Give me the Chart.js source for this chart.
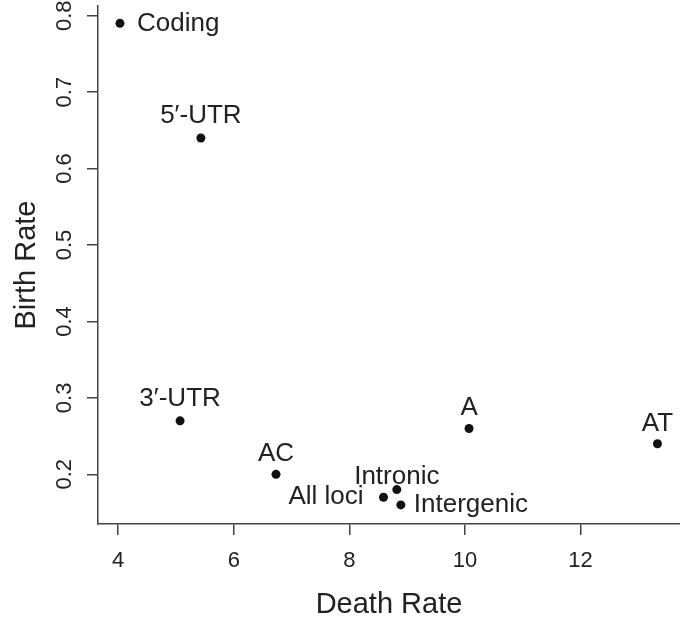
<!DOCTYPE html>
<html>
<head>
<meta charset="utf-8">
<title>Birth rate vs death rate</title>
<script src="https://cdn.jsdelivr.net/npm/chart.js@4.4.1/dist/chart.umd.min.js"></script>
<style>
  html, body { margin: 0; padding: 0; background: #fff; }
  canvas { display: block; }
</style>
</head>
<body>
<canvas id="rateChart" width="680" height="622"></canvas>
<script>
// --- DATA ---
const regions = ['Coding', '5\u2032-UTR', '3\u2032-UTR', 'AC', 'All loci', 'Intronic', 'Intergenic', 'A', 'AT'];
const deathRate = [4.03, 5.43, 5.07, 6.73, 8.59, 8.82, 8.89, 10.07, 13.33];
const birthRate = [0.79, 0.64, 0.27, 0.20, 0.17, 0.18, 0.16, 0.26, 0.24];
const xTicks = [4, 6, 8, 10, 12];
const yTicks = [0.2, 0.3, 0.4, 0.5, 0.6, 0.7, 0.8];

const FONT = '"Liberation Sans", Arial, Helvetica, sans-serif';
const INK = '#222';
const AXIS = '#444';

Chart.defaults.font.family = FONT;
Chart.defaults.color = INK;

// where each text label sits relative to its point
const labelPlacement = {
    'Coding': { side: 'right', gap: 17 },
    '5\u2032-UTR': { side: 'above', gap: 15 },
    '3\u2032-UTR': { side: 'above', gap: 15 },
    'AC': { side: 'above', gap: 13 },
    'All loci': { side: 'left', gap: 20 },
    'Intronic': { side: 'above', gap: 6 },
    'Intergenic': { side: 'right', gap: 13 },
    'A': { side: 'above', gap: 13 },
    'AT': { side: 'above', gap: 13 }
};

const pointLabels = {
    id: 'pointLabels',
    afterDatasetsDraw(chart) {
        const ctx = chart.ctx;
        const meta = chart.getDatasetMeta(0);
        ctx.save();
        ctx.font = '26px ' + FONT;
        ctx.fillStyle = INK;
        meta.data.forEach((pt, i) => {
            const name = regions[i];
            const p = labelPlacement[name];
            if (p.side === 'above') {
                ctx.textAlign = 'center';
                ctx.textBaseline = 'alphabetic';
                ctx.fillText(name, pt.x, pt.y - p.gap);
            } else if (p.side === 'right') {
                ctx.textAlign = 'left';
                ctx.textBaseline = 'middle';
                ctx.fillText(name, pt.x + p.gap, pt.y);
            } else {
                ctx.textAlign = 'right';
                ctx.textBaseline = 'middle';
                ctx.fillText(name, pt.x - p.gap, pt.y);
            }
        });
        ctx.restore();
    }
};

// fixed axis boxes, no extra room reserved for the end labels
const fixBox = size => axis => {
    if (axis.isHorizontal()) axis.height = size; else axis.width = size;
    axis.paddingTop = 0;
    axis.paddingBottom = 0;
    axis.paddingLeft = 0;
    axis.paddingRight = 0;
};

const ctx = document.getElementById('rateChart');
new Chart(ctx, {
    type: 'scatter',
    data: {
        datasets: [{
            label: 'Birth vs death rate',
            data: deathRate.map((d, i) => ({ x: d, y: birthRate[i] })),
            backgroundColor: '#111',
            borderWidth: 0,
            pointRadius: 4.5,
            pointHoverRadius: 4.5
        }]
    },
    options: {
        responsive: false,
        animation: false,
        devicePixelRatio: 1,
        layout: {
            autoPadding: false,
            padding: { top: 6, right: 0, bottom: 0, left: 0 }
        },
        plugins: {
            legend: { display: false },
            tooltip: { enabled: false }
        },
        scales: {
            x: {
                type: 'linear',
                min: 3.65,
                max: 13.72,
                afterBuildTicks: axis => { axis.ticks = xTicks.map(v => ({ value: v })); },
                afterFit: fixBox(98),
                grid: { display: true, drawOnChartArea: false, drawTicks: true, tickLength: 11, color: AXIS, lineWidth: 1.5 },
                border: { display: true, color: AXIS, width: 1.5 },
                ticks: { font: { size: 22 }, color: INK, padding: 13, maxRotation: 0, autoSkip: false },
                title: { display: true, text: 'Death Rate', font: { size: 29 }, color: INK, padding: { top: 0, bottom: 0 } }
            },
            y: {
                type: 'linear',
                min: 0.135,
                max: 0.8127,
                afterBuildTicks: axis => { axis.ticks = yTicks.map(v => ({ value: v })); },
                afterFit: fixBox(98),
                grid: { display: true, drawOnChartArea: false, drawTicks: true, tickLength: 11, color: AXIS, lineWidth: 1.5 },
                border: { display: true, color: AXIS, width: 1.5 },
                ticks: {
                    font: { size: 22 },
                    color: INK,
                    padding: 7,
                    minRotation: 90,
                    maxRotation: 90,
                    crossAlign: 'center',
                    autoSkip: false,
                    callback: v => v.toFixed(1)
                },
                title: { display: true, text: 'Birth Rate', font: { size: 29 }, color: INK, padding: { top: 10, bottom: 0 } }
            }
        }
    },
    plugins: [pointLabels]
});
</script>
</body>
</html>
